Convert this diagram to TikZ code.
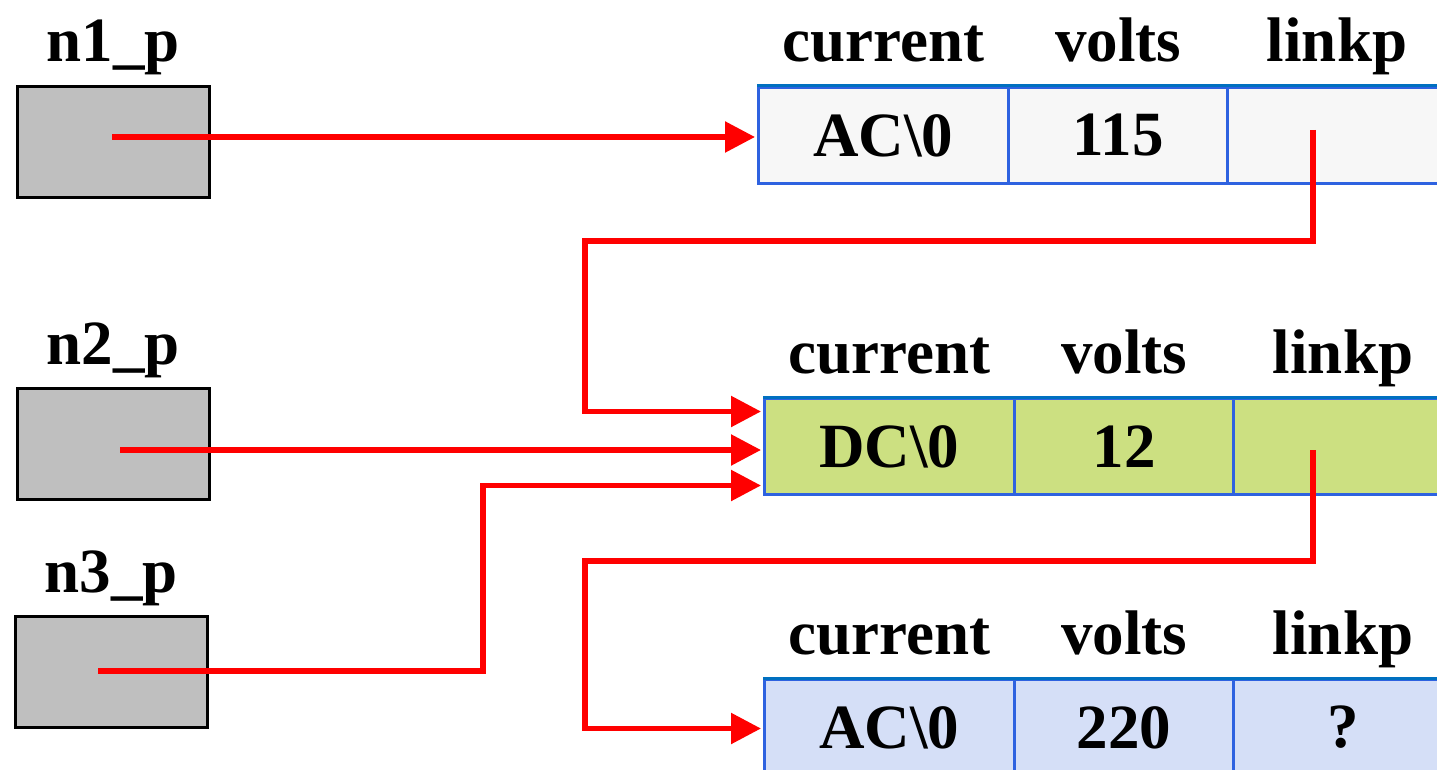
\documentclass[tikz,border=0pt]{standalone}
\usepackage{fontspec}
\setmainfont{Liberation Serif}
\usetikzlibrary{arrows.meta}
\definecolor{recblue}{HTML}{2E62E0}
\definecolor{topblue}{HTML}{0070C0}
\definecolor{gfill}{HTML}{BFBFBF}
\definecolor{fillA}{HTML}{F7F7F7}
\definecolor{fillB}{HTML}{CCE081}
\definecolor{fillC}{HTML}{D5DFF7}
\definecolor{linkred}{HTML}{FF0000}
\tikzset{
  txt/.style={font=\fontsize{63}{70}\selectfont\bfseries, inner sep=0pt},
  cell/.style={txt, draw=recblue, line width=3pt, anchor=north west, minimum height=96pt},
  cellA/.style={cell, minimum width=250pt},
  cellB/.style={cell, minimum width=219pt},
  ptrbox/.style={draw=black, fill=gfill, line width=3pt, anchor=north west, minimum width=192pt, minimum height=111pt, inner sep=0pt},
  hdr/.style={txt, anchor=base, yshift=24pt},
  plabel/.style={txt, anchor=base, yshift=23pt},
  link/.style={draw=linkred, line width=5.5pt, -{Triangle[length=30pt,width=30pt]}, shorten >=2pt},
  linkplain/.style={draw=linkred, line width=5.5pt}
}
\begin{document}
\begin{tikzpicture}[x=1pt,y=-1pt]
\useasboundingbox (0,0) rectangle (1437,770);
\clip (0,0) rectangle (1437,770);
\fill[white] (0,0) rectangle (1437,770);

% pointer boxes
\node[ptrbox] (g1) at (16,85) {};
\node[ptrbox] (g2) at (16,387) {};
\node[ptrbox] (g3) at (14,615) {};
\node[plabel] (l1) at (g1.north) {n1\_p};
\node[plabel] (l2) at (g2.north) {n2\_p};
\node[plabel] (l3) at (g3.north) {n3\_p};

% record 1
\node[cellA, fill=fillA] (r1a) at (757,86) {AC\textbackslash 0};
\node[cellB, fill=fillA] (r1b) at (1007,86) {115};
\node[cellB, fill=fillA] (r1c) at (1226,86) {};
\draw[topblue, line width=3pt] (r1a.north west) -- (r1c.north east);
\node[hdr] (h1a) at (r1a.north) {current};
\node[hdr] (h1b) at (r1b.north) {volts};
\node[hdr] (h1c) at (r1c.north) {linkp};

% record 2
\node[cellA, fill=fillB] (r2a) at (763,397) {DC\textbackslash 0};
\node[cellB, fill=fillB] (r2b) at (1013,397) {12};
\node[cellB, fill=fillB] (r2c) at (1232,397) {};
\draw[topblue, line width=3pt] (r2a.north west) -- (r2c.north east);
\node[hdr] (h2a) at (r2a.north) {current};
\node[hdr] (h2b) at (r2b.north) {volts};
\node[hdr] (h2c) at (r2c.north) {linkp};

% record 3
\node[cellA, fill=fillC] (r3a) at (763,678) {AC\textbackslash 0};
\node[cellB, fill=fillC] (r3b) at (1013,678) {220};
\node[cellB, fill=fillC] (r3c) at (1232,678) {?};
\draw[topblue, line width=3pt] (r3a.north west) -- (r3c.north east);
\node[hdr] (h3a) at (r3a.north) {current};
\node[hdr] (h3b) at (r3b.north) {volts};
\node[hdr] (h3c) at (r3c.north) {linkp};

% connector start points
\coordinate (s1) at (112,137);
\coordinate (s2) at (120,450);
\coordinate (s3) at (98,671);
\coordinate (p1) at (1313,130);
\coordinate (p2) at (1313,450);

% connectors
\draw[link] (s1) -- (s1 -| r1a.west);
\draw[link] (p1) |- (585,241) |- ([yshift=35pt]r2a.west);
\draw[link] (s2) -- (s2 -| r2a.west);
\draw[link] (s3) -- (483,671) |- ([yshift=-39pt]r2a.west);
\draw[link] (p2) |- (585,561) |- ([yshift=-1pt]r3a.west);
\end{tikzpicture}
\end{document}
